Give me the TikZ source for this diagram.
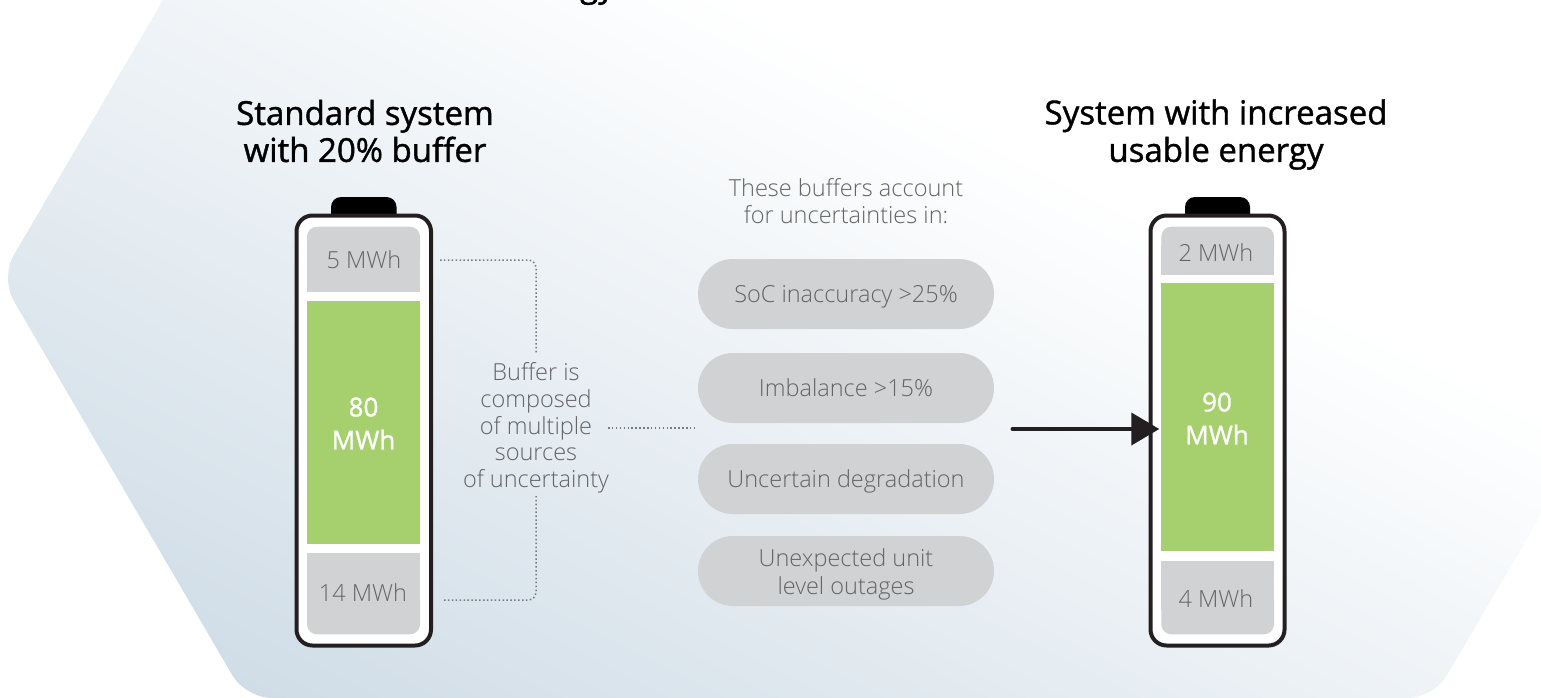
\documentclass[tikz,border=0pt]{standalone}
\usepackage{fontspec}
\setmainfont{Open Sans}
\newfontfamily\lightfont{Open Sans Light}
\newfontfamily\medfont[FakeBold=1.2]{Open Sans}
\usetikzlibrary{arrows.meta}
\definecolor{bgdark}{HTML}{D0DDE7}
\definecolor{greybox}{HTML}{D1D2D4}
\definecolor{greentank}{HTML}{A6D06D}
\definecolor{labelgrey}{HTML}{636466}
\definecolor{inkdark}{HTML}{231F20}
\definecolor{dotgrey}{HTML}{77797C}
\pgfdeclareverticalshading{bgshade}{3000pt}{color(0pt)=(bgdark); color(200pt)=(bgdark); color(1030pt)=(white); color(2000pt)=(white)}
\tikzset{
  x=1pt,y=-1pt,
  titletext/.style={align=center,inner sep=0pt,font=\medfont\fontsize{33}{38}\selectfont,text=black},
  lighttext/.style={align=center,inner sep=0pt,font=\lightfont\fontsize{23.5}{26.7}\selectfont,text=labelgrey},
  tanktext/.style={align=center,inner sep=0pt,font=\medfont\fontsize{26}{33}\selectfont,text=white},
  pill/.style={draw=none,fill=greybox,rounded corners=34.9pt,minimum width=296pt,minimum height=70pt,inner sep=0pt,align=center,font=\lightfont\fontsize{23.5}{28}\selectfont,text=labelgrey},
  oneline/.style={text height=23pt,text depth=6pt},
  shell/.style={draw=inkdark,line width=4pt,fill=white,rounded corners=16pt},
  dotline/.style={draw=dotgrey,line width=1.5pt,dash pattern=on 1.5pt off 2.4pt,rounded corners=8pt},
}
\begin{document}
\begin{tikzpicture}
\useasboundingbox (0,0) rectangle (1541,697);
\clip (0,0) rectangle (1541,697);
% background hexagon
\begin{scope}
  \clip[rounded corners=26pt] (163,0) -- (322,-270) -- (1520,-270) -- (1680,0) -- (1680,278) -- (1433.6,698) -- (245.6,698) -- (0.4,278) -- cycle;
  \node[rotate=-27,inner sep=0pt,outer sep=0pt] (bg) at (770,55.7) {\pgfuseshading{bgshade}};
\end{scope}
\node[titletext,anchor=base east] (cut) at (615,-3) {energy};
% titles
\node[titletext] (tleft) at (365,131) {Standard system\\[-1pt] with 20\% buffer};
\node[titletext] (tright) at (1216,134.5) {System with increased\\[-0.5pt] usable energy};
% left battery
\fill[black,rounded corners=10pt] (331,197) rectangle (396.5,235);
\path[shell] (296.5,215.5) rectangle (431,645.5);
\fill[greybox,rounded corners=10pt] (307,226.7) rectangle (420,270);
\fill[greybox] (307,250) rectangle (420,292.3);
\fill[greybox,rounded corners=10pt] (307,590) rectangle (420,634.3);
\fill[greybox] (307,553) rectangle (420,610);
\node[fill=greentank,minimum width=113pt,minimum height=242.7pt,inner sep=0pt] (lgreen) at (363.5,422.35) {};
\node[lighttext] (l5) at (364,260) {5 MWh};
\node[lighttext] (l14) at (363,592.5) {14 MWh};
\node[tanktext] (l80) at (363.5,423.5) {80\\MWh};
% right battery
\fill[black,rounded corners=10pt] (1185,197) rectangle (1250,235);
\path[shell] (1150.5,215.5) rectangle (1284.5,645.5);
\fill[greybox,rounded corners=10pt] (1161.3,226.7) rectangle (1274,265);
\fill[greybox] (1161.3,245) rectangle (1274,275);
\fill[greybox,rounded corners=10pt] (1161.3,590) rectangle (1274,634.3);
\fill[greybox] (1161.3,561) rectangle (1274,610);
\node[fill=greentank,minimum width=112.7pt,minimum height=268pt,inner sep=0pt] (rgreen) at (1217.65,417) {};
\node[lighttext] (r2) at (1216,253) {2 MWh};
\node[lighttext] (r4) at (1216,598.5) {4 MWh};
\node[tanktext] (r90) at (1217,418.5) {90\\MWh};
% middle texts
\node[lighttext] (cap) at (846,201) {These buffers account\\for uncertainties in:};
\node[lighttext] (buf) at (536,428) {Buffer is\\composed\\of multiple\\sources\\of uncertainty};
\node[pill,oneline] (p1) at (846,294) {SoC inaccuracy >25\%};
\node[pill,oneline] (p2) at (846,388) {Imbalance >15\%};
\node[pill,oneline] (p3) at (846,479) {Uncertain degradation};
\node[pill] (p4) at (846,571) {\rule{0pt}{25pt}Unexpected unit\\level outages};
% dotted connectors
\coordinate (d1a) at (440,260);
\coordinate (d1b) at (536,260);
\coordinate (d1c) at (536,354);
\coordinate (d2a) at (444,600);
\coordinate (d2b) at (536,600);
\coordinate (d2c) at (536,496);
\coordinate (d3a) at (608,428);
\coordinate (d3b) at (695,428);
\draw[dotline] (d1a) -- (d1b) -- (d1c);
\draw[dotline] (d2a) -- (d2b) -- (d2c);
\draw[dotline] (d3a) -- (d3b);
% arrow
\coordinate (astart) at (1012.5,429);
\coordinate (atip) at (1159.3,429);
\draw[inkdark,line width=4pt,line cap=round,-{Triangle[length=28pt,width=32pt]}] (astart) -- (atip);
\end{tikzpicture}
\end{document}
